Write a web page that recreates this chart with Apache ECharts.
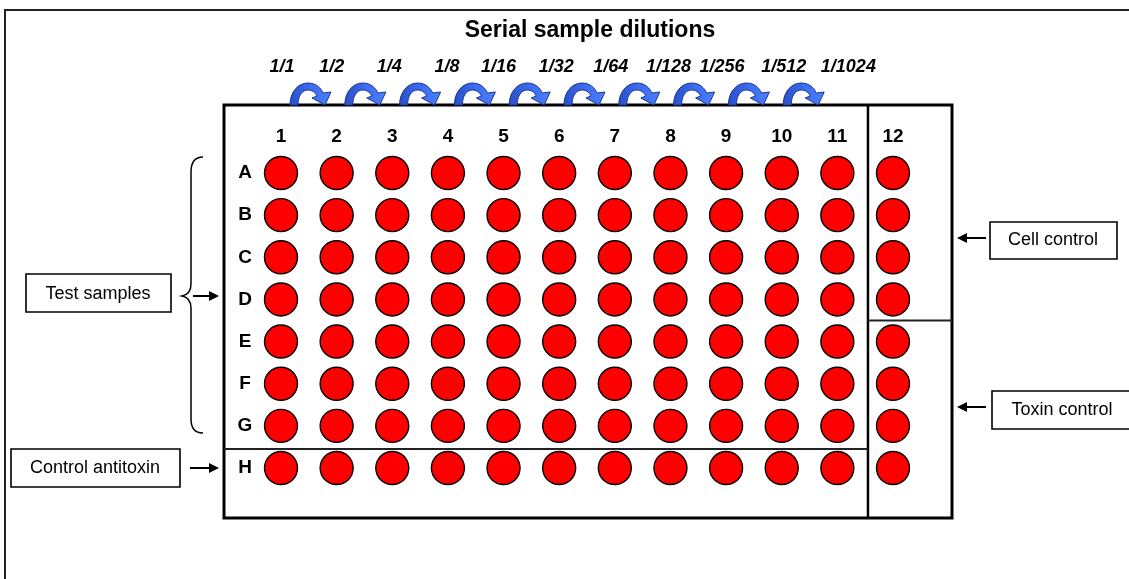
<!DOCTYPE html>
<html>
<head>
<meta charset="utf-8">
<script src="https://cdn.jsdelivr.net/npm/echarts@6/dist/echarts.min.js"></script>
<style>
html,body{margin:0;padding:0;background:#fff;}
#main{width:1129px;height:579px;}
</style>
</head>
<body>
<div id="main"></div>
<script>
// ---- data ----
const title = 'Serial sample dilutions';
const columns = ['1','2','3','4','5','6','7','8','9','10','11','12'];
const rows = ['A','B','C','D','E','F','G','H'];
const dilutions = ['1/1','1/2','1/4','1/8','1/16','1/32','1/64','1/128','1/256','1/512','1/1024'];
const testLabel = 'Test samples';
const antitoxinLabel = 'Control antitoxin';
const cellLabel = 'Cell control';
const toxinLabel = 'Toxin control';

// wells: every row x every column
const wells = [];
rows.forEach((r, ri) => columns.forEach((c, ci) => wells.push([ci + 1, ri + 1])));

// ---- custom shapes ----
echarts.graphic.registerShape('curvedArrow', echarts.graphic.extendShape({
  shape: {x: 0, y: 0},
  buildPath: function (ctx, s) {
    const X = s.x, Y = s.y; // left-bottom corner
    ctx.moveTo(X, Y);
    ctx.bezierCurveTo(X, Y - 13, X + 8, Y - 22, X + 18, Y - 22);
    ctx.bezierCurveTo(X + 26, Y - 22, X + 31, Y - 17, X + 33, Y - 12);
    ctx.lineTo(X + 41, Y - 13);
    ctx.lineTo(X + 35, Y);
    ctx.lineTo(X + 22, Y - 7);
    ctx.lineTo(X + 27, Y - 9);
    ctx.bezierCurveTo(X + 25, Y - 13, X + 22, Y - 15, X + 18, Y - 15);
    ctx.bezierCurveTo(X + 12, Y - 15, X + 8, Y - 9, X + 8, Y);
    ctx.closePath();
  }
}));
echarts.graphic.registerShape('brace', echarts.graphic.extendShape({
  shape: {x: 0, top: 0, mid: 0, bottom: 0},
  buildPath: function (ctx, s) {
    const x = s.x;
    ctx.moveTo(x + 12, s.top);
    ctx.bezierCurveTo(x + 4, s.top, x, s.top + 5, x, s.top + 15);
    ctx.lineTo(x, s.mid - 12);
    ctx.bezierCurveTo(x, s.mid - 5, x - 4, s.mid - 1, x - 9, s.mid);
    ctx.bezierCurveTo(x - 4, s.mid + 1, x, s.mid + 5, x, s.mid + 12);
    ctx.lineTo(x, s.bottom - 14);
    ctx.bezierCurveTo(x, s.bottom - 5, x + 4, s.bottom, x + 12, s.bottom);
  }
}));

// ---- layout ----
const FONT = '"Liberation Sans", Arial, sans-serif';
const plate = {left: 224, top: 105, width: 728, height: 413};
const colUnit = 612 / 11, rowUnit = 295 / 7;
const xMin = 1 - 57 / colUnit, xMax = xMin + plate.width / colUnit;
const yMin = 1 - 68 / rowUnit, yMax = yMin + plate.height / rowUnit;

const chart = echarts.init(document.getElementById('main'));
chart.setOption({
  animation: false,
  backgroundColor: '#ffffff',
  grid: Object.assign({show: true, borderColor: '#000', borderWidth: 3, backgroundColor: 'transparent'}, plate),
  xAxis: {type: 'value', min: xMin, max: xMax, show: false},
  yAxis: {type: 'value', inverse: true, min: yMin, max: yMax, show: false},
  series: [{
    type: 'scatter', data: wells, symbolSize: 33, z: 5,
    itemStyle: {color: '#ff0000', borderColor: '#000', borderWidth: 1.4, opacity: 1},
    emphasis: {disabled: true}
  }]
});

const px = v => chart.convertToPixel({gridIndex: 0}, [v, 1])[0];
const py = v => chart.convertToPixel({gridIndex: 0}, [1, v])[1];

function text(t, x, y, font) {
  return {
    type: 'text', x: x, y: y, z: 10,
    style: {text: t, font: font, fill: '#000', align: 'center', verticalAlign: 'middle',
            textAlign: 'center', textVerticalAlign: 'middle'}
  };
}
function line(x1, y1, x2, y2, w, color) {
  return {type: 'line', z: 8, shape: {x1, y1, x2, y2}, style: {stroke: color || '#000', lineWidth: w}};
}
function box(x, y, w, h) {
  return {type: 'rect', z: 8, shape: {x, y, width: w, height: h}, style: {fill: '#fff', stroke: '#000', lineWidth: 1.6}};
}
function arrow(x1, x2, y) { // head at x2
  const dir = x2 > x1 ? 1 : -1;
  return [
    line(x1, y, x2 - dir * 6, y, 2),
    {type: 'polygon', z: 8, shape: {points: [[x2, y], [x2 - dir * 10, y - 5], [x2 - dir * 10, y + 5]]}, style: {fill: '#000'}}
  ];
}

const g = [];
// outer frame (left and top edges visible)
g.push({type: 'polyline', z: 1, shape: {points: [[5, 579], [5, 10], [1129, 10]]}, style: {stroke: '#222', lineWidth: 2, fill: null}});

// title
g.push(text(title, 590, 31, 'bold 23px ' + FONT));

// dilution labels
const dilOffsets = [1, -5, -3, -1, -5, -3, -4, -2, -4, 2, 11];
dilutions.forEach((d, i) => g.push(text(d, px(i + 1) + dilOffsets[i], 67, 'italic bold 18px ' + FONT)));

// curved blue arrows between consecutive dilutions
for (let i = 0; i < dilutions.length - 1; i++) {
  g.push({
    type: 'curvedArrow', z: 6,
    shape: {x: 290 + i * 54.8, y: 105},
    style: {
      fill: new echarts.graphic.LinearGradient(0, 0, 1, 0, [{offset: 0, color: '#2a4fc6'}, {offset: 0.5, color: '#3d6cf0'}, {offset: 1, color: '#4a80ff'}]),
      stroke: '#1b3590', lineWidth: 1
    }
  });
}

// column and row labels
columns.forEach((c, i) => g.push(text(c, px(i + 1), 137, 'bold 19px ' + FONT)));
rows.forEach((r, i) => g.push(text(r, 245, py(i + 1), 'bold 19px ' + FONT)));

// plate dividers
const xDiv = px(11.55);
g.push(line(xDiv, plate.top, xDiv, plate.top + plate.height, 2.5));
g.push(line(plate.left, py(7.55), xDiv, py(7.55), 2, '#222'));
g.push(line(xDiv, py(4.5), plate.left + plate.width, py(4.5), 2, '#222'));

// left annotations
g.push(box(26, 274, 145, 38));
g.push(text(testLabel, 98, 294, '18px ' + FONT));
g.push({type: 'brace', z: 8, shape: {x: 191, top: 157, mid: 296, bottom: 433},
  style: {stroke: '#000', lineWidth: 1.5, fill: null}});
g.push(...arrow(193, 219, 296));

g.push(box(11, 449, 169, 38));
g.push(text(antitoxinLabel, 95, 468, '18px ' + FONT));
g.push(...arrow(190, 219, 468));

// right annotations
g.push(box(990, 222, 127, 37));
g.push(text(cellLabel, 1053, 240, '18px ' + FONT));
g.push(...arrow(986, 957, 238));

g.push(box(992, 391, 140, 38));
g.push(text(toxinLabel, 1062, 410, '18px ' + FONT));
g.push(...arrow(986, 957, 407));

chart.setOption({graphic: {elements: g}});
</script>
</body>
</html>
